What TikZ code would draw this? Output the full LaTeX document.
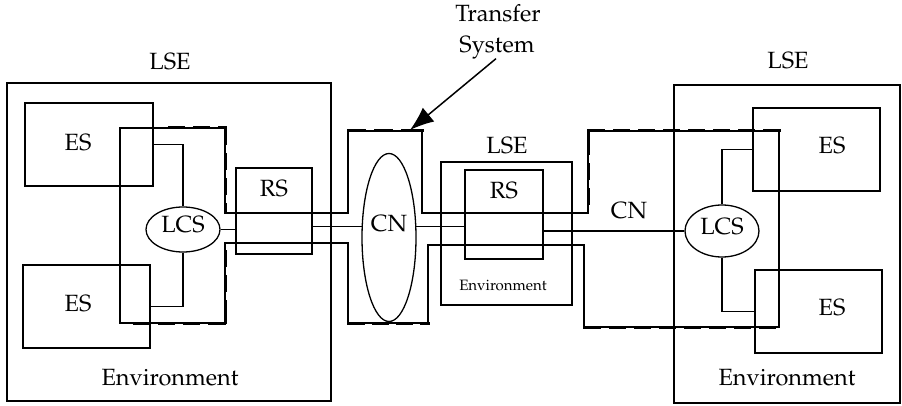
\documentclass[tikz,border=0pt]{standalone}
\usepackage[T1]{fontenc}
\usepackage{mathpazo}
\usetikzlibrary{arrows.meta,shapes.geometric}
\begin{document}
\begin{tikzpicture}[x=1pt,y=-1pt,
  box/.style={draw,line width=1.3pt,inner sep=0pt,minimum width=#1},
  oval/.style={draw,ellipse,line width=1.3pt,inner sep=0pt},
  lab/.style={inner sep=0pt,text height=0.69em,text depth=0pt,font=\fontsize{23.5}{27}\selectfont},
  smalllab/.style={inner sep=0pt,text height=0.69em,text depth=0pt,font=\fontsize{15}{17}\selectfont},
  wire/.style={line width=1.3pt},
  tsys/.style={draw,line width=1.1pt,line join=miter},
  pointer/.style={line width=1.5pt,-{Latex[length=24pt,width=18pt]}}
]
\useasboundingbox (0,0) rectangle (902,406);
\fill[white] (0,0) rectangle (902,406);

% transfer system boundary (thin outline)
\path[tsys] (120,128) -- (225,128) -- (225,213) -- (348,213) -- (348,131) -- (422,131)
  -- (422,213) -- (588,213) -- (588,131) -- (779,131) -- (779,327) -- (584,327)
  -- (584,245) -- (428,245) -- (428,323) -- (348,323) -- (348,243) -- (225,243)
  -- (225,323) -- (120,323) -- cycle;
% heavy dashes as filled bars
\foreach \a/\b in {168/185,193/210,218/226.5} \fill[black] (\a,126.5) rectangle (\b,129.5);
\foreach \a/\b in {128/145,153/170,178/195,203/213} \fill[black] (223.5,\a) rectangle (226.5,\b);
\foreach \a/\b in {250/267,275/292,300/324} \fill[black] (223.5,\a) rectangle (226.5,\b);
\foreach \a/\b in {208/226,183/200,158/175,133/150} \fill[black] (\a,321.5) rectangle (\b,324.5);
\foreach \a/\b in {346.5/366,374/393,401/423.5} \fill[black] (\a,129.5) rectangle (\b,132.5);
\foreach \a/\b in {346.5/365,372/389,396/413,420/429.5} \fill[black] (\a,321.5) rectangle (\b,324.5);
\foreach \a/\b in {188/205,163/180,131/155} \fill[black] (586.5,\a) rectangle (589.5,\b);
\foreach \a/\b in {586.5/605,613/630,638/655,663/680,688/705,713/730,738/755,763/780.5} \fill[black] (\a,129.5) rectangle (\b,132.5);
\foreach \a/\b in {582.5/601,609/626,634/651,659/676,684/701,709/726,734/751,759/776} \fill[black] (\a,325.5) rectangle (\b,328.5);

% left LSE
\node[box=324pt,minimum height=318pt] (lseL) at (169,242) {};
\node[lab] (lseLt) at (170,66) {LSE};
\node[box=128pt,minimum height=83pt] (esL1) at (89,144.5) {};
\node[lab] (esL1t) at (78,147) {ES};
\node[box=127pt,minimum height=83pt] (esL2) at (86.5,306.5) {};
\node[lab] (esL2t) at (78,308) {ES};
\node[oval,minimum width=74pt,minimum height=45pt] (lcsL) at (183,229.5) {};
\node[lab] (lcsLt) at (183,229.5) {LCS};
\node[box=76pt,minimum height=86pt] (rsL) at (274,211) {};
\node[lab] (rsLt) at (274,193) {RS};
\node[lab] (envL) at (170,382.5) {Environment};

% CN
\node[oval,minimum width=54pt,minimum height=168pt] (cn) at (389,237.5) {};
\node[lab] (cnt) at (389,228) {CN};

% middle LSE
\node[box=131pt,minimum height=143pt] (lseM) at (506.5,233.5) {};
\node[lab] (lseMt) at (507,150) {LSE};
\node[box=78pt,minimum height=89pt] (rsM) at (504,214.5) {};
\node[lab] (rsMt) at (504,195) {RS};
\node[smalllab] (envM) at (503,287) {Environment};

% right LSE
\node[box=226pt,minimum height=318pt] (lseR) at (787,244) {};
\node[lab] (lseRt) at (788,65) {LSE};
\node[box=127pt,minimum height=83pt] (esR1) at (816.5,149.5) {};
\node[lab] (esR1t) at (832,150) {ES};
\node[box=127pt,minimum height=83pt] (esR2) at (818.5,311.5) {};
\node[lab] (esR2t) at (832,312) {ES};
\node[oval,minimum width=74pt,minimum height=52pt] (lcsR) at (722,231) {};
\node[lab] (lcsRt) at (722,231) {LCS};
\node[lab] (envR) at (787,382.5) {Environment};

\node[lab] (cnlab) at (629,215) {CN};

% connectors
\draw[wire] (esL1.east) -| (lcsL.north);
\draw[wire] (lcsL.south) |- (esL2.east);
\draw[wire] (lcsL.east) -- (lcsL.east -| rsL.west);
\draw[wire] (cn.158 -| rsL.east) -- (cn.158);
\draw[wire] (cn.22) -- (cn.22 -| rsM.west);
\draw[wire] (rsM.east |- lcsR.west) -- (lcsR.west);
\draw[wire] (lcsR.north) |- (esR1.west);
\draw[wire] (lcsR.south) |- (esR2.west);

% Transfer System label and arrow
\node[lab] (ts1) at (498,18) {Transfer};
\node[lab] (ts2) at (497,49) {System};
\coordinate (tip) at (410,130);
\draw[pointer] (ts2.south) ++(-1,6) -- (tip);
\end{tikzpicture}
\end{document}
